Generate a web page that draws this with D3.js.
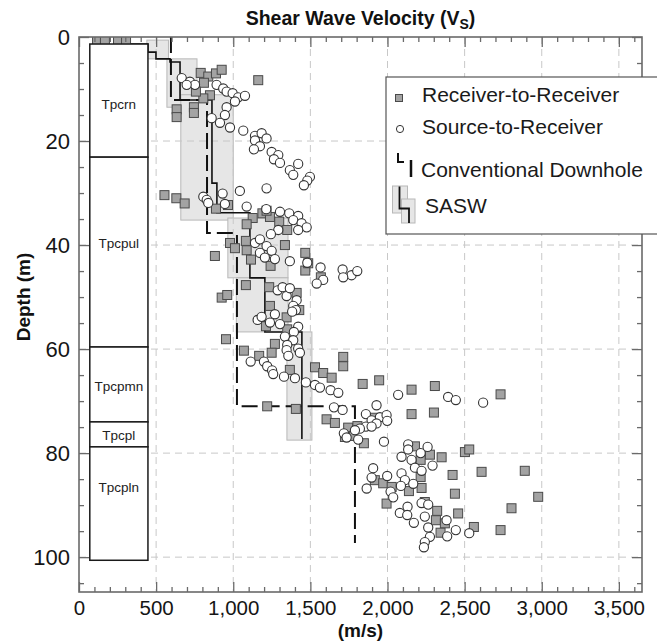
<!DOCTYPE html>
<html><head><meta charset="utf-8">
<script src="https://cdn.jsdelivr.net/npm/d3@7"></script>
<style>body{margin:0;background:#fff} svg{display:block;font-family:"Liberation Sans",Arial,sans-serif}</style>
</head><body><svg id="c" width="657" height="644"></svg>
<script>
// ---------------- data ----------------
const xTicksMajor = [0,500,1000,1500,2000,2500,3000,3500];
const yTicksMajor = [0,20,40,60,80,100];
// Receiver-to-Receiver  [velocity m/s, depth m]
const rrPoints = [
[117,0.6],[168,0.6],[253,0.7],[305,0.7],
[789,6.9],[838,7.6],[888,7.0],[925,6.3],[810,8.8],[849,11.2],[806,11.8],[758,10.5],[1162,8.3],[633,13.9],[633,15.4],[745,13.5],[745,14.6],
[554,30.4],[631,31.0],[685,32.0],[888,33.0],[966,32.3],[1189,33.9],[1126,34.8],[1238,34.6],[1216,33.4],
[1298,35.5],[1350,37.1],[1335,40.0],[1087,36.0],[979,39.6],[1011,40.6],[1082,39.2],[1087,41.0],[1115,42.8],[881,42.1],[1242,44.0],[1467,41.5],[1467,44.9],[1486,43.5],[1568,46.2],[1233,48.1],[1082,47.7],[925,50.1],[961,49.6],[1411,49.2],[1238,51.7],[1428,52.5],[1346,53.9],[1212,55.6],[1350,56.2],[953,58.1],[1270,59.0],[1069,60.3],[1168,61.3],[1249,60.7],[1367,64.0],[1530,63.5],[1583,64.6],[1638,65.5],[1713,61.5],[1713,63.3],[1946,66.0],
[1839,66.7],[2156,67.8],[2156,72.5],[1220,71.0],[1406,71.5],[1605,73.5],[1659,74.2],[1745,75.1],[1805,74.8],[1778,76.7],[1847,78.1],[1912,73.2],[1724,76.9],
[2307,67.1],[2733,68.7],[2301,72.2],[2178,78.7],[2275,80.3],[2351,80.8],[2502,79.8],[2530,79.3],[2215,81.3],[2215,84.6],[2221,86.7],[2422,84.2],[2610,83.6],[2890,83.4],[1918,85.2],[1972,85.8],[2027,86.5],[2139,87.3],[2437,87.8],[2977,88.4],[1994,89.7],[2242,89.4],[2804,90.6],[2322,91.1],[2458,91.6],[2314,92.9],[2372,93.5],[2560,94.2],[2733,94.8],[2344,95.3]
];
// Source-to-Receiver  [velocity m/s, depth m]
const srPoints = [
[666,7.9],[719,8.6],[752,9.2],[698,9.2],[892,9.2],[935,9.9],[957,10.5],[996,10.8],[1032,11.6],[1076,11.3],[1011,12.4],[957,13.5],[946,15.0],[860,15.6],[914,16.5],[979,17.4],[1065,18.0],[1141,19.0],[1184,18.5],[1216,19.5],[1141,19.9],[1173,21.0],[1134,21.6],[1249,22.1],[1292,22.7],[1264,23.5],[1303,24.2],[1421,24.4],[1367,25.6],[1389,26.5],[1497,26.9],[1480,27.6],[1458,28.5],[1216,29.1],[1043,29.6],[931,30.1],[806,30.7],[828,31.3],[838,31.9],[946,32.1],[1087,32.6],[1214,33.1],[1303,33.6],[1363,33.9],[1421,34.4],
[1389,35.2],[1443,35.8],[1476,36.6],[1421,37.1],[1292,37.1],[1244,37.9],[1141,39.6],[1173,38.9],[1216,40.2],[1249,41.1],[1173,41.5],[1205,42.4],[1270,42.7],[1367,43.1],[1480,43.4],[1566,44.3],[1709,44.7],[1767,45.8],[1804,45.0],[1713,46.2],[1583,46.7],[1541,47.4],[1288,48.7],[1320,48.1],[1346,49.8],[1367,48.3],[1411,50.6],[1389,51.7],[1406,52.5],[1382,52.8],[1158,54.4],[1184,53.8],[1270,53.3],[1238,54.9],[1303,55.2],[1421,55.7],[1393,56.7],[1335,57.6],[1389,58.3],[1350,59.2],[1421,59.9],[1346,60.2],[1357,61.3],[1432,60.7],[1113,62.4],[1199,62.4],[1220,63.3],[1252,64.1],[1329,65.3],[1400,65.6],
[1259,64.8],[1471,66.4],[1530,66.9],[1562,67.4],[1631,67.9],[1681,68.4],[2069,68.8],[1929,70.8],[1653,71.2],[1709,71.7],[1860,72.5],[1897,73.7],[1951,73.1],[1994,72.7],[1998,73.8],[1860,74.9],[1821,75.3],[1717,76.2],[1735,77.0],[1810,77.4],[1789,75.6],[1977,77.8],
[2393,69.2],[2443,69.8],[2620,70.3],[1929,74.3],[1897,74.9],[2134,78.3],[2134,79.3],[2215,80.0],[2260,78.8],[2091,80.7],[2156,81.3],[2178,82.8],[2221,83.4],[2292,82.4],[1907,82.9],[1897,84.7],[1998,84.4],[2091,83.9],[2113,85.2],[2087,86.3],[2167,85.9],[1865,86.8],[2020,87.4],[2037,88.5],[2130,90.3],[2080,91.5],[2128,91.9],[2221,89.6],[2264,89.9],[2242,92.2],[2171,93.4],[2264,94.3],[2383,92.9],[2443,94.8],[2387,96.0],[2275,96.1],[2242,97.1],[2530,95.4],[2236,98.1]
];
// Conventional downhole layers [velocity, top depth, bottom depth]
const downholeLayers = [[596,0,12.1],[830,12.1,37.7],[1024,37.7,71.0],[1789,71.0,97.3]];
// SASW layers [velocity, top depth, bottom depth]
const saswLayers = [[300,0,1.35],[447,1.35,2.9],[499,2.9,4.2],[590,4.2,4.8],[655,4.8,12.1],[862,12.1,28.1],[894,28.1,33.8],[1108,33.8,46.3],[1205,46.3,56.7],[1445,56.7,77.3]];
// SASW range boxes [top depth, bottom depth, v min, v max]
const saswRanges = [[0.6,4.2,440,580],[4.2,13.5,570,765],[11.1,35.2,660,1000],[34.8,46.3,965,1355],[46.3,56.7,1020,1355],[56.7,77.5,1348,1510]];
// geologic units
const unitNames = ["Tpcrn","Tpcpul","Tpcpmn","Tpcpl","Tpcpln"];
const unitTop = [1.35,23.1,59.6,74.0,78.8];
const unitBottom = [23.1,59.6,74.0,78.8,100.6];
const unitLabelDepth = [12.9,39.6,67.1,76.5,86.5];

// ---------------- drawing ----------------
const M = {l:79, r:642, t:37, b:592};
const x = d3.scaleLinear().domain([0,3650]).range([M.l,M.r]);
const y = d3.scaleLinear().domain([0,106.7]).range([M.t,M.b]);
const svg = d3.select("#c");
svg.append("rect").attr("width",657).attr("height",644).attr("fill","#fff");
svg.append("defs").append("clipPath").attr("id","clip").append("rect")
  .attr("x",M.l).attr("y",M.t).attr("width",M.r-M.l).attr("height",M.b-M.t);
const g = svg.append("g").attr("clip-path","url(#clip)");

// SASW range boxes
g.selectAll("rect.rng").data(saswRanges).join("rect").attr("class","rng")
  .attr("x",d=>x(d[2])).attr("y",d=>y(d[0]))
  .attr("width",d=>x(d[3])-x(d[2])).attr("height",d=>y(d[1])-y(d[0]))
  .attr("fill","#e6e6e6").attr("stroke","#b8b8b8").attr("stroke-width",1);

// grid
const xGrid = xTicksMajor.filter(v=>v>0), yGrid = yTicksMajor.filter(v=>v>0);
g.selectAll("line.gx").data(xGrid).join("line").attr("x1",d=>x(d)).attr("x2",d=>x(d))
  .attr("y1",M.t).attr("y2",M.b).attr("stroke","#c8c8c8").attr("stroke-dasharray","7,5");
g.selectAll("line.gy").data(yGrid).join("line").attr("y1",d=>y(d)).attr("y2",d=>y(d))
  .attr("x1",M.l).attr("x2",M.r).attr("stroke","#c8c8c8").attr("stroke-dasharray","7,5");

// step profiles
function stepPts(layers){const p=[];layers.forEach(l=>{p.push([l[0],l[1]]);p.push([l[0],l[2]]);});return p;}
const line = d3.line().x(d=>x(d[0])).y(d=>y(d[1]));
g.append("path").attr("d",line(stepPts(downholeLayers))).attr("fill","none")
  .attr("stroke","#111").attr("stroke-width",2).attr("stroke-dasharray","16,6");
g.append("path").attr("d",line(stepPts(saswLayers))).attr("fill","none")
  .attr("stroke","#111").attr("stroke-width",1.6);

// points
const sq = 9;
g.selectAll("rect.rr").data(rrPoints).join("rect").attr("class","rr")
  .attr("x",d=>x(d[0])-sq/2).attr("y",d=>y(d[1])-sq/2).attr("width",sq).attr("height",sq)
  .attr("fill","#a3a3a3").attr("stroke","#4a4a4a").attr("stroke-width",1);
g.selectAll("circle.sr").data(srPoints).join("circle").attr("class","sr")
  .attr("cx",d=>x(d[0])).attr("cy",d=>y(d[1])).attr("r",4.6)
  .attr("fill","#fff").attr("stroke","#333").attr("stroke-width",1.1);

// geology column
const colV = [70,447];
const units = unitNames.map((n,i)=>({n,t:unitTop[i],b:unitBottom[i],l:unitLabelDepth[i]}));
svg.selectAll("rect.unit").data(units).join("rect").attr("class","unit")
  .attr("x",x(colV[0])).attr("width",x(colV[1])-x(colV[0]))
  .attr("y",d=>y(d.t)).attr("height",d=>y(d.b)-y(d.t))
  .attr("fill","#fff").attr("stroke","#1a1a1a").attr("stroke-width",1.5);
svg.selectAll("text.unit").data(units).join("text").attr("class","unit")
  .attr("x",(x(colV[0])+x(colV[1]))/2).attr("y",d=>y(d.l)).attr("dy","0.35em")
  .attr("text-anchor","middle").attr("font-size",13.5).attr("fill","#222").text(d=>d.n);

// frame
svg.append("rect").attr("x",M.l).attr("y",M.t).attr("width",M.r-M.l).attr("height",M.b-M.t)
  .attr("fill","none").attr("stroke","#6a6a6a").attr("stroke-width",1.6);

// axes
const xMinor = d3.range(0,3650,100).filter(v=>v%500!==0);
const yMinor = d3.range(0,106,5).filter(v=>v%20!==0);
function styleAxis(fs){return sel=>{sel.select(".domain").remove();sel.selectAll(".tick line").attr("stroke","#6a6a6a").attr("stroke-width",1.3);
  sel.selectAll("text").attr("font-size",fs).attr("fill","#151515").attr("font-family","'Liberation Sans',Arial,sans-serif");};}
svg.append("g").attr("transform",`translate(0,${M.b})`).call(d3.axisBottom(x).tickValues(xTicksMajor).tickSize(-10).tickPadding(8).tickFormat(d3.format(","))).call(styleAxis(20.5));
svg.append("g").attr("transform",`translate(0,${M.b})`).call(d3.axisBottom(x).tickValues(xMinor).tickSize(-5).tickFormat("")).call(styleAxis(20));
svg.append("g").attr("transform",`translate(0,${M.t})`).call(d3.axisTop(x).tickValues(xTicksMajor).tickSize(-10).tickFormat("")).call(styleAxis(20));
svg.append("g").attr("transform",`translate(0,${M.t})`).call(d3.axisTop(x).tickValues(xMinor).tickSize(-5).tickFormat("")).call(styleAxis(20));
svg.append("g").attr("transform",`translate(${M.l},0)`).call(d3.axisLeft(y).tickValues(yTicksMajor).tickSize(-10).tickPadding(9)).call(styleAxis(22));
svg.append("g").attr("transform",`translate(${M.l},0)`).call(d3.axisLeft(y).tickValues(yMinor).tickSize(-5).tickFormat("")).call(styleAxis(20));
svg.append("g").attr("transform",`translate(${M.r},0)`).call(d3.axisRight(y).tickValues(yTicksMajor).tickSize(-10).tickFormat("")).call(styleAxis(20));
svg.append("g").attr("transform",`translate(${M.r},0)`).call(d3.axisRight(y).tickValues(yMinor).tickSize(-5).tickFormat("")).call(styleAxis(20));

// titles
const title = svg.append("text").attr("x",(M.l+M.r)/2).attr("y",25).attr("text-anchor","middle")
  .attr("font-size",19.5).attr("font-weight","bold").attr("fill","#111");
title.append("tspan").text("Shear Wave Velocity (V");
title.append("tspan").attr("font-size",14).attr("dy",4).text("S");
title.append("tspan").attr("dy",-4).text(")");
svg.append("text").attr("x",(M.l+M.r)/2).attr("y",637).attr("text-anchor","middle")
  .attr("font-size",19).attr("font-weight","bold").attr("fill","#111").text("(m/s)");
svg.append("text").attr("transform","translate(30,297) rotate(-90)").attr("text-anchor","middle")
  .attr("font-size",19).attr("font-weight","bold").attr("fill","#111").text("Depth (m)");

// legend
const L = svg.append("g");
L.append("rect").attr("x",386).attr("y",77).attr("width",290).attr("height",157)
  .attr("fill","#fff").attr("stroke","#555").attr("stroke-width",1.2);
L.append("rect").attr("x",395.5).attr("y",94.5).attr("width",7).attr("height",7)
  .attr("fill","#a3a3a3").attr("stroke","#4a4a4a");
L.append("circle").attr("cx",400).attr("cy",129).attr("r",3.6).attr("fill","#fff").attr("stroke","#333");
L.append("path").attr("d","M398,153 V162 H404").attr("fill","none").attr("stroke","#111").attr("stroke-width",2);
L.append("path").attr("d","M411,160 V177").attr("fill","none").attr("stroke","#111").attr("stroke-width",2.5);
L.append("rect").attr("x",392.5).attr("y",186).attr("width",15).attr("height",27).attr("fill","#e6e6e6").attr("stroke","#b8b8b8");
L.append("rect").attr("x",401.5).attr("y",199).attr("width",13.5).attr("height",24).attr("fill","#e6e6e6").attr("stroke","#b8b8b8");
L.append("path").attr("d","M399.5,186.5 V208.5 H409 V223").attr("fill","none").attr("stroke","#111").attr("stroke-width",1.8);
const legTexts = [["Receiver-to-Receiver",422,102],["Source-to-Receiver",422,134],["Conventional Downhole",421,177],["SASW",425,213]];
L.selectAll("text").data(legTexts).join("text").attr("x",d=>d[1]).attr("y",d=>d[2])
  .attr("font-size",21).attr("fill","#1a1a1a").text(d=>d[0]);
</script></body></html>
